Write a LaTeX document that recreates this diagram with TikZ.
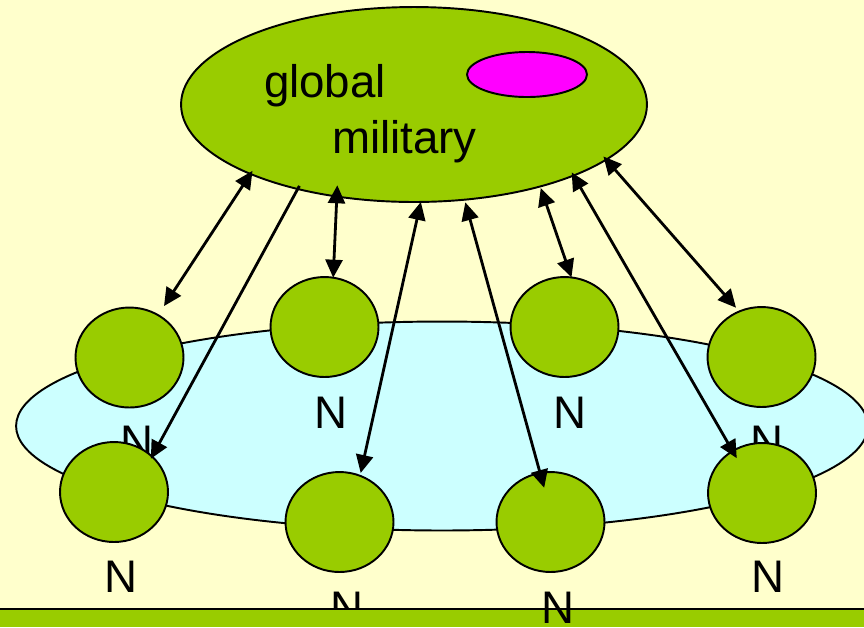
\documentclass[tikz,border=0pt]{standalone}
\usepackage{fontspec}
\setmainfont{Liberation Sans}
\usetikzlibrary{arrows.meta,shapes.geometric}
\definecolor{bgyellow}{RGB}{255,255,204}
\definecolor{grassgreen}{RGB}{153,204,0}
\definecolor{paleblue}{RGB}{204,255,255}
\definecolor{spotpink}{RGB}{255,0,255}
\begin{document}
\begin{tikzpicture}[x=0.02cm,y=-0.02cm,
		blob/.style={ellipse,draw,line width=1.1pt,fill=grassgreen,inner sep=0pt,outer sep=0pt,minimum width=2.16cm,minimum height=2cm},
		nlab/.style={font=\fontsize{26}{30}\selectfont,inner sep=0pt},
		link/.style={line width=1.6pt,{Triangle[length=0.36cm,width=0.34cm]}-{Triangle[length=0.36cm,width=0.34cm]}},
		oneway/.style={line width=1.6pt,-{Triangle[length=0.36cm,width=0.34cm]}}]
	\useasboundingbox (0,0) rectangle (864,627);
	\fill[bgyellow] (0,0) rectangle (864,627);
	%RING
	\node[ellipse,draw,line width=1.1pt,fill=paleblue,inner sep=0pt,outer sep=0pt,minimum width=17.04cm,minimum height=4.18cm] (ring) at (442,426) {};
	%TOP ROW
	\node[blob] (n1) at (129.5,357.5) {};
	\node[blob] (n2) at (324.5,327) {};
	\node[blob] (n3) at (564.5,327) {};
	\node[blob] (n4) at (761.5,357) {};
	\node[nlab] (l1) at (137,441.5) {N};
	\node[nlab] (l2) at (331,413) {N};
	\node[nlab] (l3) at (570,413) {N};
	\node[nlab] (l4) at (767,441.5) {N};
	%BOTTOM ROW
	\node[blob] (n5) at (114,492) {};
	\node[blob] (n6) at (339.5,522) {};
	\node[nlab] (l5) at (121,576.5) {N};
	\node[nlab] (l6) at (347,607.5) {N};
	\fill[grassgreen] (0,609) rectangle (864,627);
	\draw[line width=1.2pt] (0,609) -- (864,609);
	\node[blob] (n7) at (550.5,522) {};
	\node[blob] (n8) at (762,493) {};
	\node[nlab] (l7) at (558,607.5) {N};
	\node[nlab] (l8) at (768,576.5) {N};
	%GLOBAL MILITARY
	\node[blob,minimum width=9.32cm,minimum height=3.9cm] (mil) at (414,104.5) {};
	\node[ellipse,draw,line width=1.1pt,fill=spotpink,inner sep=0pt,minimum width=2.4cm,minimum height=0.9cm] (spot) at (527,74.5) {};
	\node[nlab,anchor=base] (tglobal) at (325,97) {global};
	\node[nlab,anchor=base] (tmil) at (404.5,153) {military};
	%LINKS
	\draw[link,shorten <=-0.074cm,shorten >=0.216cm] (mil.203.3) -- (n1.56.2);
	\draw[oneway,shorten <=-0.07cm,shorten >=-0.05cm] (mil.216.1) -- (n5.43.4);
	\draw[link,shorten <=-0.224cm] (mil.230.4) -- (n2.80.4);
	\draw[link,shorten >=0.058cm] (mil.274.1) -- (n6.66.3);
	\draw[link,shorten <=0.056cm,shorten >=-0.308cm] (mil.298.5) -- (n7.102.4);
	\draw[link,shorten <=0.034cm] (mil.327.4) -- (n3.82.6);
	\draw[link,shorten <=-0.074cm,shorten >=-0.164cm] (mil.336.7) -- (n8.125.5);
	\draw[link,shorten <=-0.084cm,shorten >=0.1cm] (mil.344.2) -- (n4.116.1);
\end{tikzpicture}
\end{document}
